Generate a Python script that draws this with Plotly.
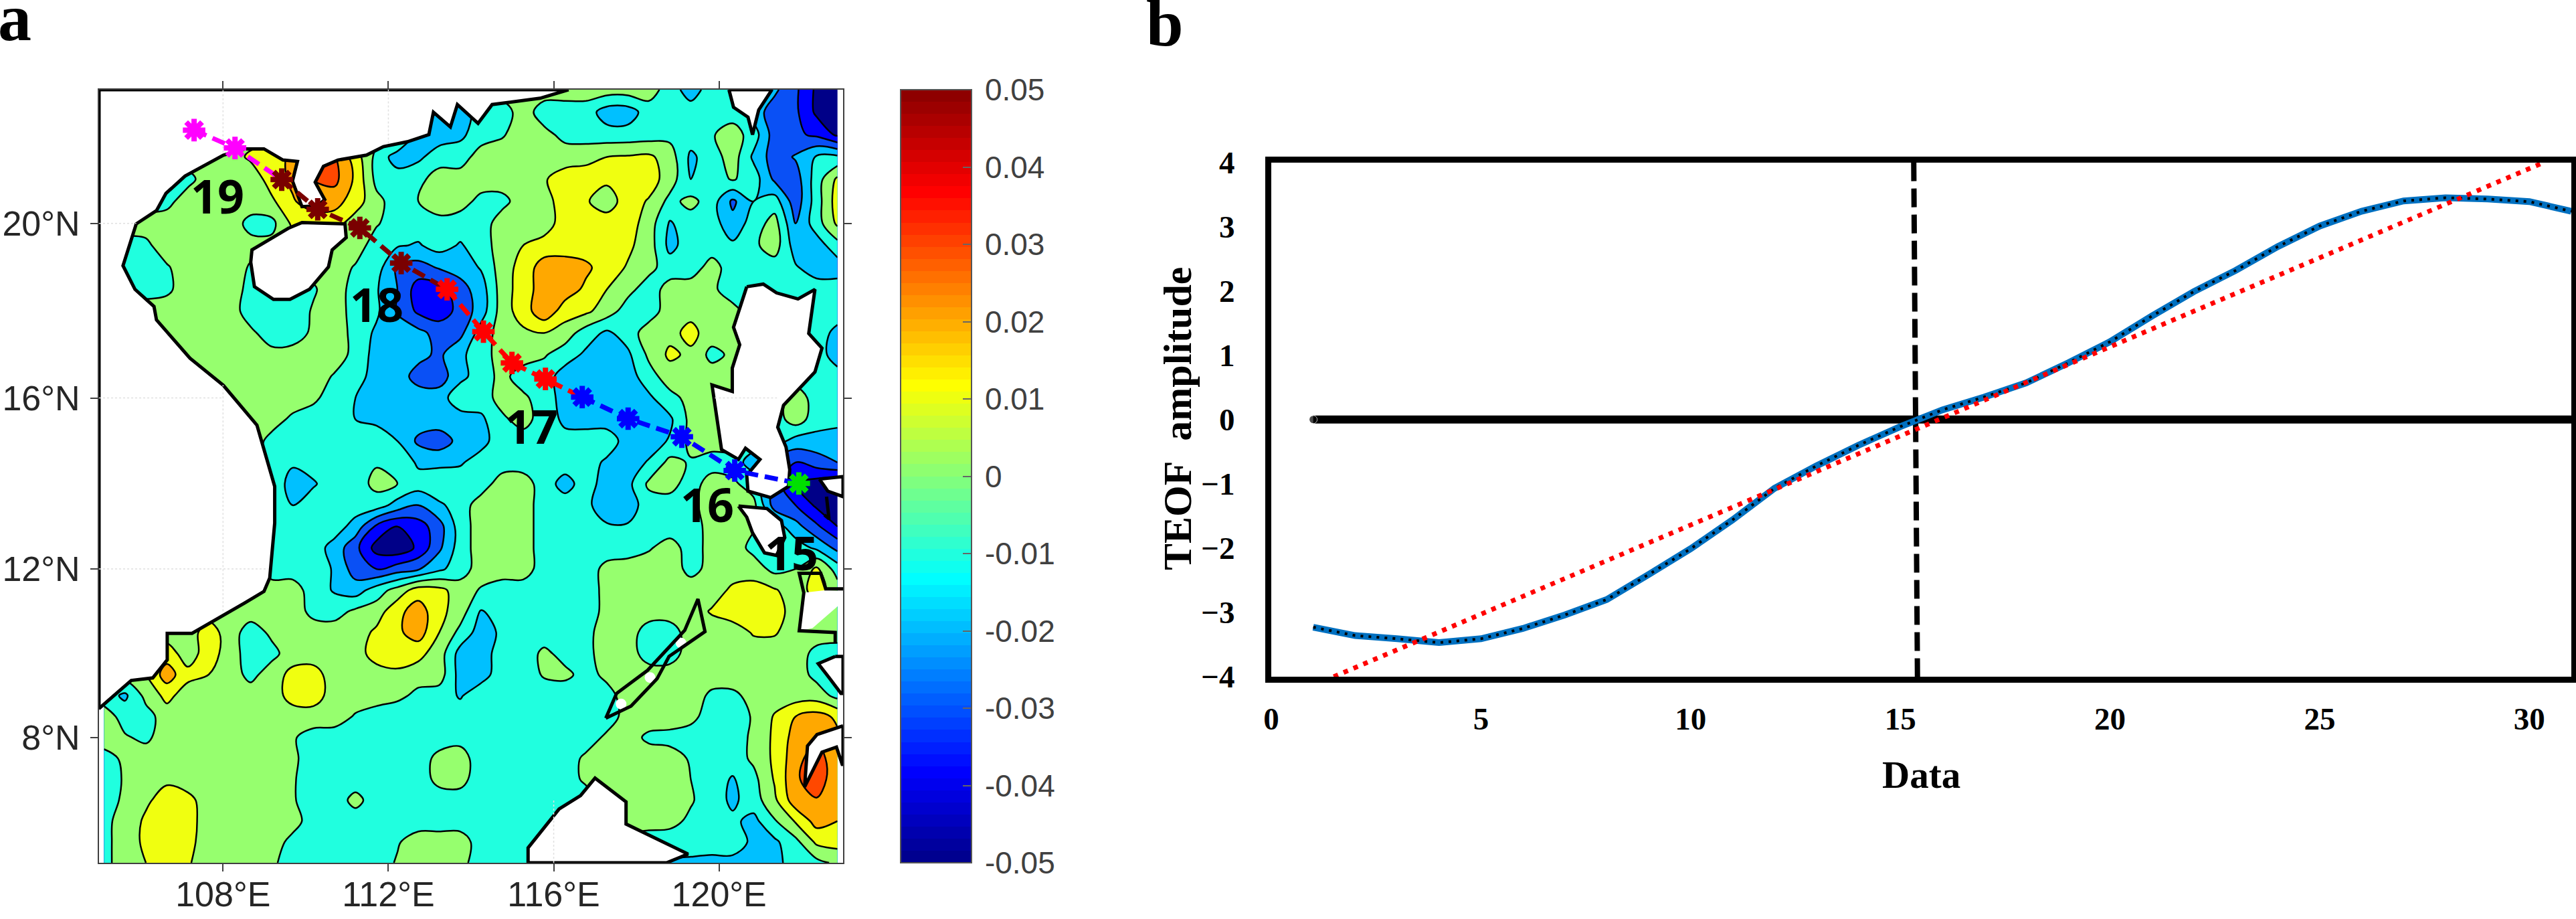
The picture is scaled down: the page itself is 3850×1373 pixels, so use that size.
import numpy as np
import plotly.graph_objects as go


def merc(lat):
    # panel a is on a Mercator map, so latitudes go through this before plotting
    return np.log(np.tan(np.pi / 4 + np.radians(lat) / 2))


# ---- panel a: field values (x 0.001), north to south
LAT = [23, 22.5, 22, 21.5, 21, 20.5, 20, 19.5, 19, 18.5, 18, 17.5, 17, 16.5, 16, 15.5, 15, 14.5,
       14, 13.5, 13, 12.5, 12, 11.5, 11, 10.5, 10, 9.5, 9, 8.5, 8, 7.5, 7, 6.5, 6, 5.5, 5]
Z = [
    [5, 5, 5, 5, 5, 5, 5, 5, 5, 5, 5, 5, 5, 5, 5, 5, 5, 5, 5, 5, 5, 5, 5, 5, 5, 5, 5, -5, -15, -5, -5, -15, -18, -28, -42, -48],
    [5, 5, 5, 5, 5, 5, 5, 5, 5, 5, 5, 5, 5, 5, 5, 5, -12, -15, -5, -5, 5, -5, -5, -5, -15, -15, -5, -5, -5, -5, -5, -15, -25, -28, -42, -48],
    [5, 5, 5, 5, 5, 5, 5, 5, 5, 5, 5, 5, 5, 5, 5, -12, -15, -12, -5, -1, 5, 3, -3, -5, -6, -6, -5, -3, -5, -1, 5, -5, -25, -28, -32, -42],
    [5, 5, 5, 5, 5, 5, 5, 12, 15, 22, 28, 30, 15, -3, -15, -12, -5, -5, 5, 5, 5, 5, 5, 7, 10, 11, 12, 5, -12, -5, 5, -12, -25, -19, -9, -8],
    [5, 5, 5, -3, -3, 5, 5, 3, 15, 22, 30, 33, 18, -3, -5, -3, 5, 5, 5, 5, 5, 9, 15, 15, 12, 15, 15, 5, -10, -5, 1, -5, -22, -25, -5, 12],
    [5, 5, -3, -3, 5, 5, 5, 5, 8, 19, 25, 24, 15, 3, -5, 0, 5, 4, -3, -3, 5, 6, 15, 11, 5, 15, 9, -3, 3, -5, -22, -10, -5, -26, -5, 15],
    [5, 5, 4, 5, 5, 5, 5, -3, -3, 12, 14, 14, 5, 1, -5, -5, -3, -5, -5, 5, 5, 5, 15, 15, 15, 15, 5, -11, -5, -5, -17, -5, 4, -20, -5, 12],
    [5, -3, -2, 5, 5, 5, 5, 3, 3, 5, 5, 5, 5, -5, -9, -11, -6, -11, -5, 5, 10, 14, 15, 15, 15, 12, 5, -13, -5, -5, -8, -2, 5, -15, -15, -4],
    [-3, -3, -5, -1, 5, 5, 5, -1, -3, 3, 3, 5, -1, -5, -22, -24, -19, -16, -9, 5, 14, 25, 25, 22, 15, 9, 3, -5, -5, 4, -5, -5, -5, -9, -15, -15],
    [-3, -3, -4, -2, 5, 5, 5, -3, -5, -5, -1, 5, -4, -9, -20, -35, -34, -24, -15, 5, 15, 25, 25, 18, 10, 3, -5, 4, 5, 2, -5, -5, -5, -5, -5, -5],
    [5, 5, 5, 5, 5, 5, 5, -5, -5, -5, 1, 5, -4, -8, -21, -32, -35, -27, -15, 5, 15, 27, 15, 12, 5, -5, -5, 5, 7, 5, 3, -5, -5, -5, -5, -5],
    [5, 5, 5, 5, 5, 5, 5, 2, -5, -5, 2, 5, -3, -12, -15, -17, -24, -23, -5, 4, 8, 10, 5, -5, -12, -5, 5, 7, 13, 5, 3, -5, -5, -5, -5, -13],
    [5, 5, 5, 5, 5, 5, 5, 5, 3, 4, 5, 5, -3, -14, -15, -17, -22, -12, -5, 5, 5, 1, -5, -12, -15, -12, 2, 12, 8, -3, 2, -5, -5, -5, -5, -15],
    [5, 5, 5, 5, 5, 5, 5, 5, 5, 5, 5, -1, -5, -15, -15, -24, -25, -13, -5, 3, -5, -5, -15, -15, -15, -15, -4, 5, 5, 5, 5, -5, -5, -5, -4, -6],
    [5, 5, 5, 5, 5, 5, 5, 5, 5, 5, 2, -5, -10, -15, -14, -15, -15, -3, -5, 4, 2, -5, -14, -15, -15, -15, -12, -3, 3, 5, 5, -5, -5, 5, -4, -5],
    [5, 5, 5, 5, 5, 5, 5, 5, 4, -2, -5, -5, -10, -12, -15, -15, -15, -15, -12, -2, 4, -5, -12, -15, -15, -15, -15, -12, 3, 5, 5, -5, -5, 5, -5, -5],
    [5, 5, 5, 5, 5, 5, 5, 5, -3, -5, -5, -5, -5, -5, -10, -22, -25, -17, -13, -5, -5, -5, -7, -4, -4, -15, -15, -9, 3, 5, 5, -5, -5, -14, -14, -18],
    [5, 5, 5, 5, 5, 5, 5, 5, -5, -9, -6, -5, -5, -1, -1, -12, -13, -11, -6, -5, -5, -5, -5, -5, -12, -15, -9, 3, -1, -5, -5, -15, -25, -30, -25, -20],
    [5, 5, 5, 5, 5, 5, 5, 5, -5, -13, -11, -5, -5, 3, 0, -5, -1, -5, -5, 5, 5, -5, -14, -5, -15, -13, 2, 4, -5, 5, 2, -5, -25, -40, -45, -48],
    [5, 5, 5, 5, 5, 5, 5, 5, -5, -10, -5, -5, -5, -5, -14, -20, -12, -5, 5, 5, 5, -5, -5, -8, -15, -15, -5, -5, -3, 5, 4, 3, -25, -30, -42, -48],
    [5, 5, 5, 5, 5, 5, 5, 5, -5, -5, -5, -5, -14, -32, -40, -35, -24, -5, 5, 5, 5, -5, -5, -5, -9, -9, -5, -5, -5, 4, 5, 1, -5, -16, -28, -40],
    [5, 5, 5, 5, 5, 5, 5, 5, -5, -5, -5, -14, -27, -44, -47, -38, -22, -5, 5, 5, 5, -5, -5, -5, -5, -5, -1, 4, -4, 3, 5, -3, -5, -5, -12, -23],
    [5, 5, 5, 5, 5, 5, 5, 5, -5, -5, -5, -11, -25, -30, -25, -21, -12, -5, 5, 5, 5, -5, -5, -5, 3, 5, 5, 5, -3, 3, 5, 5, -3, 0, 12, -5],
    [5, 5, 5, 5, 5, 5, 5, 5, 5, 5, -5, -11, -15, -5, 4, 15, 13, 5, -1, -5, -5, -5, -5, -5, 3, 5, 5, 5, 5, 5, 12, 14, 11, 5, 14, 5],
    [5, 5, 5, 5, 5, 5, 5, 5, 5, 5, -3, -4, 2, 5, 17, 25, 13, 5, -11, -4, -5, -5, -5, -5, 3, 5, 5, 5, 5, 11, 15, 15, 15, 5, 5, 5],
    [5, 5, 5, 5, 5, 15, 5, -5, 2, 5, 5, 5, 5, 12, 18, 25, 10, -3, -15, -8, -5, -5, -5, -3, 5, 5, -5, -5, 5, 5, 5, 11, 11, 5, 5, 5],
    [5, 5, 15, 15, 5, 15, 5, -5, -3, 5, 5, 5, 5, 15, 15, 13, 5, -14, -15, -5, -5, 2, -3, -3, 5, 5, -5, -5, 5, 5, 5, 5, 5, 5, -3, -5],
    [5, 5, 10, 25, 13, 10, 5, -3, 5, 13, 14, 5, 5, 5, 8, 5, 5, -14, -14, -5, -5, 1, 2, -3, 2, 5, 5, 5, 5, 5, 5, 5, 5, 5, -3, -5],
    [-5, -12, 3, 13, 5, 5, 5, 5, 5, 14, 15, 5, 5, 5, 3, -3, -5, -11, -4, -5, -5, -5, -5, -5, -3, 4, 5, 5, 5, -2, -2, 3, 5, 5, 5, -3],
    [5, -4, -4, 5, 5, 5, 5, 5, 5, 5, 5, 5, -1, -5, -8, -9, -5, -5, -5, -5, -5, -5, -5, -5, -5, 4, 5, 5, 3, -5, -5, 1, 11, 20, 24, 18],
    [5, 1, -2, 5, 5, 5, 5, 5, 5, 1, -4, -5, -5, -5, -5, -5, -5, -3, -5, -5, -5, -5, -5, -5, 2, 4, -2, -3, -5, -5, -5, 2, 12, 24, 28, 22],
    [-4, 2, 5, 5, 5, 5, 5, 5, 5, 2, -5, -5, -5, -5, -5, -5, 3, 4, -5, -5, -5, -5, -5, 2, 5, 5, 5, 4, -1, -5, -5, 2, 12, 26, 36, 22],
    [-5, 1, 5, 8, 5, 5, 5, 5, 5, 1, -5, -5, -5, -5, -5, -5, 3, 3, -5, -5, -5, -5, -5, 2, 5, 5, 5, 5, 0, -5, -11, -3, 11, 28, 37, 22],
    [-5, 2, 8, 15, 13, 5, 5, 5, 5, 1, -5, -5, 3, -5, -5, -5, -5, -4, -5, -5, -5, -5, -5, -5, 4, 5, 5, 5, 1, -5, -12, -5, 8, 26, 29, 22],
    [-2, 3, 12, 15, 14, 5, 5, 5, 5, 4, -5, -5, -5, -5, -5, -5, -5, -5, -5, -5, -5, -5, -5, -5, -5, 5, 4, 3, -2, -5, -8, -13, -1, 11, 24, 20],
    [-3, 5, 12, 15, 13, 5, 5, 5, 5, -3, -5, -5, -5, -5, -1, 5, 5, 5, -5, -5, -5, -5, -5, -5, -5, -5, -5, -5, -5, -5, -3, -13, -12, -3, 12, 14],
    [-3, 5, 10, 12, 11, 5, 5, 5, 2, -5, -5, -5, -5, -5, 1, 5, 5, 3, -5, -5, -5, -5, -5, -5, -5, -5, -5, -11, -12, -13, -14, -15, -14, -4, -3, 2],
]

# colours of the filled bands, low to high
BAND_COLORS = ["#000088", "#0000ff", "#0a50f5", "#00c0ff", "#20ffdf",
               "#96ff6e", "#f0ff10", "#ffa800", "#ff4800", "#a00000"]

# land outlines, lon/lat
MAINLAND_LON = [116.36, 115.67, 114.51, 114.17, 113.67, 113.50, 113.09, 112.98, 112.46, 111.88, 111.47, 110.78, 110.43,
                110.23, 110.46, 110.29, 109.91, 109.68, 109.8, 109.45, 108.99, 108.53, 108.01, 107.08, 106.62, 106.39,
                105.9, 105.58, 105.87, 106.33, 106.39, 107.2, 108.01, 108.82, 109.16, 109.25, 109.25, 109.13, 108.99,
                108.53, 107.25, 106.65, 106.65, 106.3, 105.78, 105.06, 105, 105, 116.36]
MAINLAND_LAT = [23, 22.81, 22.67, 22.25, 22.67, 22.17, 22.5, 22, 21.84, 21.73, 21.54, 21.43, 21.29,
                20.93, 20.54, 20.4, 20.38, 20.96, 21.4, 21.43, 21.68, 21.68, 21.54, 21.07, 20.68, 20.29,
                19.99, 19.04, 18.5, 18.11, 17.8, 16.92, 16.29, 15.37, 14.24, 13.94, 13.08, 11.79, 11.47,
                11.2, 10.48, 10.48, 9.85, 9.42, 9.36, 8.72, 8.69, 23, 23]
HAINAN_LON = [109.6, 108.7, 108.67, 108.76, 109.22, 109.62, 110.09, 110.55, 110.64, 110.98, 110.95, 109.91, 109.6]
HAINAN_LAT = [19.9, 19.4, 19.12, 18.56, 18.27, 18.27, 18.5, 19.01, 19.4, 19.68, 19.99, 20.02, 19.9]
TAIWAN_LON = [120.24, 120.35, 120.7, 120.81, 120.96, 121.22, 121.28, 120.24]
TAIWAN_LAT = [23, 22.61, 22.39, 22, 22.55, 22.94, 23, 23]
LUZON_LON = [120.67, 121.07, 121.39, 121.91, 122.32, 122.17, 122.49, 122.32, 121.56, 121.42, 121.62, 121.71, 121.68,
             121.25, 120.7, 120.67, 120.99, 120.64, 120.47, 120.06, 119.83, 120.32, 120.32, 120.5, 120.35, 120.67]
LUZON_LAT = [18.56, 18.62, 18.42, 18.28, 18.5, 17.49, 17.15, 16.6, 15.83, 15.32, 14.86, 14.33, 13.94,
             13.68, 13.83, 14.2, 14.57, 14.83, 14.57, 14.8, 16.3, 16.15, 16.69, 17.23, 17.63, 18.56]
MINDORO_LON = [120.47, 121.16, 121.51, 121.59, 121.39, 121.1, 120.81, 120.67, 120.47]
MINDORO_LAT = [13.48, 13.42, 13.14, 12.74, 12.32, 12.38, 12.85, 13.22, 13.48]
BORNEO_LON = [115.38, 115.38, 116.13, 116.65, 117.0, 117.75, 117.75, 119.25, 118.73, 115.38]
BORNEO_LAT = [5, 5.36, 6.29, 6.61, 7.03, 6.46, 5.93, 5.21, 5, 5]
MINDANAO_LON = [123, 122.37, 122.14, 122.07, 122.49, 122.84, 122.98, 123, 123]
MINDANAO_LAT = [8.28, 8.07, 7.8, 6.82, 7.65, 7.77, 7.36, 7.36, 8.28]
NEGROS_LON = [122.81, 122.4, 122.66, 122.95, 123, 123, 122.81]
NEGROS_LAT = [9.93, 9.76, 9.43, 9.05, 9.05, 9.93, 9.93]
SAMAR_LON = [122.43, 123, 123, 122.63, 122.43]
SAMAR_LAT = [14.11, 14.17, 13.7, 13.83, 14.11]
PANAY_FILL_LON = [122.05, 121.97, 122.26, 122.87, 123, 122.58, 122.05]
PANAY_FILL_LAT = [11.44, 10.54, 10.6, 11.12, 11.48, 11.5, 11.44]
# outlines with no white fill
PANAY_LINE_LON = [122.81, 122.81, 121.94, 122.05, 121.94, 122.46, 122.58, 123]
PANAY_LINE_LAT = [10.25, 10.5, 10.54, 11.44, 11.9, 11.9, 11.53, 11.53]
PALAWAN_LON = [117.26, 117.87, 118.5, 118.79, 119.66, 119.49, 119.17, 118.27, 117.52, 117.26]
PALAWAN_LAT = [8.46, 8.75, 9.4, 9.93, 10.52, 11.29, 10.55, 9.6, 9.05, 8.46]
PALAWAN_GAP_LON = [117.63, 118.33, 119.08]
PALAWAN_GAP_LAT = [8.8, 9.43, 10.25]
ISLET_LON = [122.6, 122.66, 122.55]
ISLET_LAT = [13.7, 13.18, 13.27]

# faint graticule, only seen where it crosses land
GRID_LON = [105, 105.9, None, 105, 108, None, 105, 109.1, None, 108, 108, None, 108, 108, None, 112, 112, None, 119.9, 121.4, None, 116, 116]
GRID_LAT = [20, 20, None, 16, 16, None, 12, 12, None, 21.6, 23, None, 11, 16.3, None, 21.8, 23, None, 16, 16, None, 5, 6.5]

# typhoon track
TRACK_LON = [107.30, 108.29, 109.42, 110.29, 111.31, 112.31, 113.42, 114.30, 114.99, 115.80, 116.69, 117.80, 119.10, 120.38, 121.93]
TRACK_LAT = [22.10, 21.70, 20.99, 20.32, 19.90, 19.10, 18.50, 17.53, 16.81, 16.44, 16.02, 15.52, 15.10, 14.31, 14.01]

DAY_LABELS = ["19", "18", "17", "16", "15"]
DAY_LON = [107.87, 111.71, 115.46, 119.71, 121.75]
DAY_LAT = [20.64, 18.17, 15.36, 13.53, 12.4]

LON_TICKS = [108, 112, 116, 120]
LON_LABELS = ["108°E", "112°E", "116°E", "120°E"]
LAT_TICKS = [8, 12, 16, 20]
LAT_LABELS = ["8°N", "12°N", "16°N", "20°N"]

CBAR_TICKS = [-0.05, -0.04, -0.03, -0.02, -0.01, 0, 0.01, 0.02, 0.03, 0.04, 0.05]
CBAR_LABELS = ["-0.05", "-0.04", "-0.03", "-0.02", "-0.01", "0", "0.01", "0.02", "0.03", "0.04", "0.05"]

# ---- panel b
DAY = list(range(1, 32))
TEOF = [-3.23, -3.36, -3.41, -3.47, -3.41, -3.25, -3.04, -2.80, -2.41, -2.01, -1.56, -1.07, -0.72, -0.40, -0.11, 0.15,
        0.35, 0.57, 0.88, 1.21, 1.61, 1.99, 2.32, 2.69, 3.01, 3.24, 3.40, 3.45, 3.43, 3.39, 3.24]
TREND_X = [1.49, 30.35]
TREND_Y = [-4, 4]
ZERO_X = [1, 31]
ZERO_Y = [0, 0]
MARK_X = [15.32, 15.41]
MARK_Y = [4, -4.13]

W, H = 3850, 1373

fig = go.Figure()

# contour bands
n = len(BAND_COLORS)
band_scale = []
for i, c in enumerate(BAND_COLORS):
    band_scale.append([i / n, c])
    band_scale.append([(i + 1) / n, c])

fig.add_trace(go.Contour(
    x0=105.12, dx=0.507, y=merc(np.array(LAT, dtype=float)), z=np.array(Z) / 1000,
    zmin=-0.05, zmax=0.05, colorscale=band_scale, showscale=False,
    contours=dict(start=-0.05, end=0.05, size=0.01, coloring="fill", showlines=True),
    line=dict(color="black", width=2.5, smoothing=1.0),
    xaxis="x", yaxis="y", hoverinfo="skip",
))

# land on top of the field
filled = [(MAINLAND_LON, MAINLAND_LAT), (HAINAN_LON, HAINAN_LAT), (TAIWAN_LON, TAIWAN_LAT),
          (LUZON_LON, LUZON_LAT), (MINDORO_LON, MINDORO_LAT), (BORNEO_LON, BORNEO_LAT),
          (MINDANAO_LON, MINDANAO_LAT), (NEGROS_LON, NEGROS_LAT), (SAMAR_LON, SAMAR_LAT)]
for lons, lats in filled:
    fig.add_trace(go.Scatter(x=lons, y=merc(np.array(lats)), mode="lines", fill="toself", fillcolor="white",
                             line=dict(color="black", width=5), xaxis="x", yaxis="y", hoverinfo="skip"))

fig.add_trace(go.Scatter(x=PANAY_FILL_LON, y=merc(np.array(PANAY_FILL_LAT)), mode="lines", fill="toself",
                         fillcolor="white", line=dict(width=0), xaxis="x", yaxis="y", hoverinfo="skip"))
fig.add_trace(go.Scatter(x=PALAWAN_GAP_LON, y=merc(np.array(PALAWAN_GAP_LAT)), mode="markers",
                         marker=dict(size=16, color="white"), xaxis="x", yaxis="y", hoverinfo="skip"))
for lons, lats in [(PANAY_LINE_LON, PANAY_LINE_LAT), (PALAWAN_LON, PALAWAN_LAT), (ISLET_LON, ISLET_LAT)]:
    fig.add_trace(go.Scatter(x=lons, y=merc(np.array(lats)), mode="lines", line=dict(color="black", width=5),
                             xaxis="x", yaxis="y", hoverinfo="skip"))

grid_y = [None if v is None else float(merc(v)) for v in GRID_LAT]
fig.add_trace(go.Scatter(x=GRID_LON, y=grid_y, mode="lines", line=dict(color="#e0e0e0", width=1.5, dash="dot"),
                         xaxis="x", yaxis="y", hoverinfo="skip"))

# track segments, then the fixes coloured by day
segments = [(0, 3, "#ff00ff"), (2, 7, "#7a0000"), (6, 11, "#ff0000"), (10, 15, "#0000ff")]
for a, b, col in segments:
    fig.add_trace(go.Scatter(x=TRACK_LON[a:b], y=merc(np.array(TRACK_LAT[a:b])), mode="lines",
                             line=dict(color=col, width=7, dash="20px,10px"),
                             xaxis="x", yaxis="y", hoverinfo="skip"))
fixes = [(0, 2, "#ff00ff"), (2, 6, "#7a0000"), (6, 10, "#ff0000"), (10, 14, "#0000ff"), (14, 15, "#00e000")]
for a, b, col in fixes:
    fig.add_trace(go.Scatter(x=TRACK_LON[a:b], y=merc(np.array(TRACK_LAT[a:b])), mode="markers",
                             marker=dict(symbol="asterisk", size=28, color=col, line=dict(color=col, width=8)),
                             xaxis="x", yaxis="y", hoverinfo="skip"))

# jet colorbar, carried by one hidden point
t = np.linspace(0, 1, 65)
rgb = [np.interp(t, [0, 0.11, 0.36, 0.61, 0.86, 1], chan) for chan in
       ([0, 0, 0, 255, 255, 128], [0, 0, 255, 255, 0, 0], [143, 255, 255, 0, 0, 0])]
jet64 = []
for i in range(64):
    col = "rgb(%d,%d,%d)" % (rgb[0][i], rgb[1][i], rgb[2][i])
    jet64 += [[t[i], col], [t[i + 1], col]]

fig.add_trace(go.Scatter(
    x=[110], y=[merc(10.0)], mode="markers", xaxis="x", yaxis="y", hoverinfo="skip",
    marker=dict(size=1, opacity=0, color=[0], cmin=-0.05, cmax=0.05, colorscale=jet64, showscale=True,
                colorbar=dict(x=1346 / W, xanchor="left", y=(H - 1289) / H, yanchor="bottom", len=1155 / H,
                              thickness=106, thicknessmode="pixels", xpad=0, ypad=0,
                              outlinecolor="#555555", outlinewidth=2, tickmode="array",
                              tickvals=CBAR_TICKS, ticktext=["\u2009" + s for s in CBAR_LABELS],
                              ticks="inside", ticklen=14, tickcolor="#666666", tickwidth=2,
                              tickfont=dict(family="Liberation Sans", size=46, color="#404040"))),
))

# panel b lines
fig.add_trace(go.Scatter(x=ZERO_X, y=ZERO_Y, mode="lines+markers", marker=dict(size=[12, 0], color="black"),
                         line=dict(color="black", width=12), xaxis="x2", yaxis="y2", hoverinfo="skip"))
fig.add_trace(go.Scatter(x=MARK_X, y=MARK_Y, mode="lines", line=dict(color="black", width=8, dash="28px,11px"),
                         cliponaxis=False, xaxis="x2", yaxis="y2", hoverinfo="skip"))
fig.add_trace(go.Scatter(x=DAY, y=TEOF, mode="lines", line=dict(color="#0070c0", width=10),
                         xaxis="x2", yaxis="y2", hoverinfo="skip"))
fig.add_trace(go.Scatter(x=DAY, y=TEOF, mode="lines", line=dict(color="black", width=4, dash="4px,8px"),
                         xaxis="x2", yaxis="y2", hoverinfo="skip"))
fig.add_trace(go.Scatter(x=TREND_X, y=TREND_Y, mode="lines", line=dict(color="#ff0000", width=7, dash="7px,9px"),
                         xaxis="x2", yaxis="y2", hoverinfo="skip"))

annotations = [
    dict(text="a", xref="paper", yref="paper", x=22 / W, y=1 - 84 / H, xanchor="center", yanchor="bottom",
         showarrow=False, font=dict(family="Liberation Serif", size=100, color="black", weight="bold")),
    dict(text="b", xref="paper", yref="paper", x=1741 / W, y=1 - 92 / H, xanchor="center", yanchor="bottom",
         showarrow=False, font=dict(family="Liberation Serif", size=100, color="black", weight="bold")),
    dict(text="Data", xref="paper", yref="paper", x=2871 / W, y=1 - 1157 / H, xanchor="center", yanchor="middle",
         showarrow=False, font=dict(family="Liberation Serif", size=57, color="black", weight="bold")),
    dict(text="TEOF\u00a0\u00a0amplitude", xref="paper", yref="paper", x=1760 / W, y=1 - 626 / H, textangle=-90,
         xanchor="center", yanchor="middle", showarrow=False,
         font=dict(family="Liberation Serif", size=60, color="black", weight="bold")),
]
for label, lon, lat in zip(DAY_LABELS, DAY_LON, DAY_LAT):
    annotations.append(dict(text=label, x=lon, y=float(merc(lat)), xref="x", yref="y", showarrow=False,
                            font=dict(family="Open Sans", size=70, color="black", weight="bold")))

map_axis = dict(showgrid=False, zeroline=False, showline=True, linecolor="#404040", linewidth=2, mirror="ticks",
                ticks="outside", ticklen=11, tickcolor="#404040", tickwidth=2,
                tickfont=dict(family="Liberation Sans", size=52, color="#262626"))
line_axis = dict(showgrid=False, zeroline=False, showline=True, linecolor="black", linewidth=9, mirror=True,
                 ticks="", tickfont=dict(family="Liberation Serif", size=47, color="black", weight="bold"))

fig.update_layout(
    width=W, height=H, margin=dict(l=0, r=0, t=0, b=0, autoexpand=False), showlegend=False,
    paper_bgcolor="white", plot_bgcolor="white", annotations=annotations,
    xaxis=dict(map_axis, domain=[148 / W, 1260 / W], range=[105, 123], tickmode="array",
               tickvals=LON_TICKS, ticktext=LON_LABELS, ticklabelstandoff=-10),
    yaxis=dict(map_axis, domain=[1 - 1289 / H, 1 - 134 / H], range=[float(merc(5.0)), float(merc(23.0))],
               tickmode="array", tickvals=merc(np.array(LAT_TICKS, dtype=float)), ticktext=LAT_LABELS,
               ticklabelstandoff=5),
    xaxis2=dict(line_axis, domain=[1900 / W, 3843 / W], range=[0, 31], anchor="y2", tickmode="array",
                tickvals=[0, 5, 10, 15, 20, 25, 30], ticklabelstandoff=14),
    yaxis2=dict(line_axis, domain=[1 - 1011 / H, 1 - 242.6 / H], range=[-4, 4], anchor="x2", tickmode="array",
                tickvals=[-4, -3, -2, -1, 0, 1, 2, 3, 4], ticklabelstandoff=36),
)

fig.write_html("out.html", config={"displayModeBar": False}, post_script="document.body.style.margin='0';")
